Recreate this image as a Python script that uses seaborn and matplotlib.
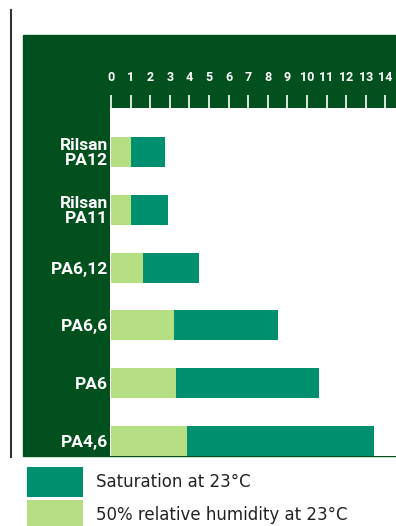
import pandas as pd
import matplotlib.pyplot as plt
import seaborn as sns
from matplotlib.patches import Rectangle
from matplotlib.lines import Line2D

# values (water absorption, %)
materials = ["Rilsan\nPA12", "Rilsan\nPA11", "PA6,12", "PA6,6", "PA6", "PA4,6"]
humidity_50 = [1.0, 1.0, 1.65, 3.2, 3.3, 3.9]
saturation = [2.75, 2.9, 4.5, 8.5, 10.6, 13.4]
ticks = list(range(0, 15))

dark_panel = "#03501f"
sat_color = "#009070"
hum_color = "#b6de83"
cond = ["Roboto", "DejaVu Sans"]

df = pd.DataFrame({"material": materials, "humidity": humidity_50, "saturation": saturation})

W, H = 396, 526
fig = plt.figure(figsize=(W / 100, H / 100), dpi=100)

# dark green frame behind the plot area
fig.add_artist(Rectangle((23 / W, 1 - 456 / H), (W - 23) / W, (456 - 35) / H,
                         transform=fig.transFigure, color=dark_panel, zorder=0))
fig.add_artist(Line2D([10.5 / W, 10.5 / W], [1 - 10 / H, 1 - 457 / H],
                      transform=fig.transFigure, color="#333333", lw=1.5))

ax = fig.add_axes([110 / W, 1 - 456 / H, (W - 110) / W, (456 - 108) / H])
ax.set_facecolor("white")

sns.barplot(data=df, x="saturation", y="material", orient="h", color=sat_color,
            saturation=1, width=0.52, label="Saturation at 23°C", ax=ax, linewidth=0)
sns.barplot(data=df, x="humidity", y="material", orient="h", color=hum_color,
            saturation=1, width=0.52, label="50% relative humidity at 23°C", ax=ax, linewidth=0)
if ax.get_legend() is not None:
    ax.get_legend().remove()

ax.set_xlim(-0.05, 14.54)
ax.set_ylim(5.26, -0.76)
ax.set_xticks(ticks)
ax.set_xlabel("")
ax.set_ylabel("")
for s in ax.spines.values():
    s.set_visible(False)

ax.tick_params(axis="x", top=True, bottom=False, labeltop=True, labelbottom=False,
               direction="out", length=9.5, width=1.2, colors="white", pad=8)
ax.tick_params(axis="y", length=0, pad=1.5, colors="white")
for lab in ax.get_xticklabels():
    lab.set_family(cond)
    lab.set_fontweight("bold")
    lab.set_fontsize(9)
for lab in ax.get_yticklabels():
    lab.set_family(cond)
    lab.set_fontweight("bold")
    lab.set_fontsize(12.5)
    lab.set_linespacing(0.95)

handles, labels = ax.get_legend_handles_labels()
fig.legend(handles, labels, loc="upper left", bbox_to_anchor=(27 / W, 1 - 467 / H),
           bbox_transform=fig.transFigure, frameon=False, borderpad=0, borderaxespad=0,
           fontsize=12, handlelength=3.36, handleheight=2.39, handletextpad=0.78,
           labelspacing=0.18, labelcolor="#222222")

fig.savefig("out.png", dpi=100)
